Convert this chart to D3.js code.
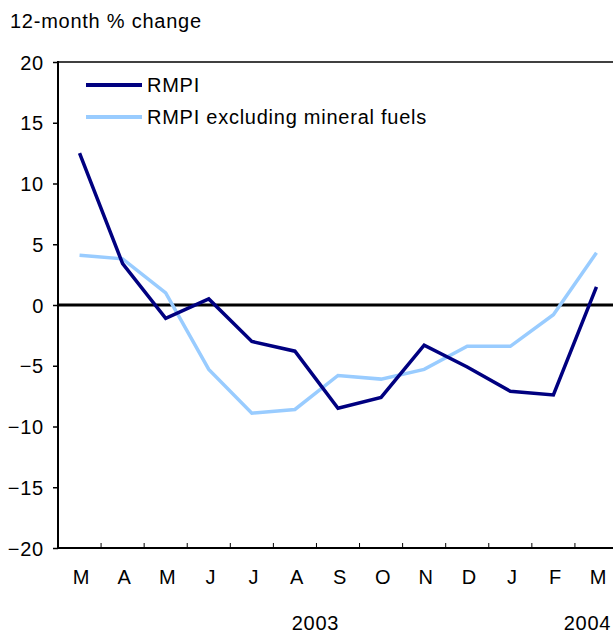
<!DOCTYPE html>
<html>
<head>
<meta charset="utf-8">
<script src="https://cdn.jsdelivr.net/npm/d3@7"></script>
<style>
  body { margin: 0; background: #fff; }
  svg { display: block; font-family: Arial, "Liberation Sans", sans-serif; }
  svg text { letter-spacing: 0.75px; }
</style>
</head>
<body>
<div id="chart"></div>
<script>
const months = ["M", "A", "M", "J", "J", "A", "S", "O", "N", "D", "J", "F", "M"];
const rmpi = [12.5, 3.4, -1.1, 0.5, -3.0, -3.8, -8.5, -7.6, -3.3, -5.1, -7.1, -7.4, 1.5];
const rmpiExFuels = [4.1, 3.8, 1.0, -5.3, -8.9, -8.6, -5.8, -6.1, -5.3, -3.4, -3.4, -0.8, 4.3];
const yTicks = [20, 15, 10, 5, 0, -5, -10, -15, -20];
const years = [{ label: "2003", at: 6, offset: -1 }, { label: "2004", at: 12, offset: -9 }];

const series = [
  { name: "RMPI", values: rmpi, color: "#000080" },
  { name: "RMPI excluding mineral fuels", values: rmpiExFuels, color: "#99ccff" },
];

const fontSize = 20;
const margin = { top: 62, right: 0, bottom: 86, left: 58 };
const totalWidth = 613;
const totalHeight = 634;
const width = 560;
const height = totalHeight - margin.top - margin.bottom;

const svg = d3
  .select("#chart")
  .append("svg")
  .attr("width", totalWidth)
  .attr("height", totalHeight);

svg
  .append("text")
  .attr("x", 10)
  .attr("y", 28)
  .attr("font-size", fontSize)
  .attr("fill", "#000")
  .text("12-month % change");

const g = svg
  .append("g")
  .attr("transform", `translate(${margin.left},${margin.top})`);

const idx = months.map((d, i) => i);

const xScale = d3.scaleBand().domain(idx).range([0, width]);
const yScale = d3.scaleLinear().domain([-20, 20]).range([height, 0]);

// frame top line
g.append("line")
  .attr("x1", 0)
  .attr("x2", width)
  .attr("y1", 0)
  .attr("y2", 0)
  .attr("stroke", "#000")
  .attr("stroke-width", 1.5);

// y axis
const yAxis = d3.axisLeft(yScale).tickValues(yTicks).tickSize(5).tickPadding(9);
const yG = g.append("g").call(yAxis);
yG.select(".domain").attr("stroke-width", 2).attr("d", `M0,${height + 1}V-1`);
yG.selectAll(".tick line").attr("stroke-width", 1.5);
yG.selectAll("text").attr("font-size", fontSize).attr("font-family", null).attr("dy", "0.36em");

// x axis
const xAxis = d3
  .axisBottom(xScale)
  .tickSize(0)
  .tickPadding(22)
  .tickFormat((i) => months[i]);
const xG = g.append("g").attr("transform", `translate(0,${height})`).call(xAxis);
xG.select(".domain").attr("stroke-width", 2).attr("d", `M-1,0H${width}`);
xG.selectAll("text").attr("font-size", fontSize).attr("font-family", null).attr("dx", 2);

// inner tick marks at month boundaries
g.append("g")
  .selectAll("line")
  .data(idx.slice(1))
  .enter()
  .append("line")
  .attr("x1", (i) => xScale(i))
  .attr("x2", (i) => xScale(i))
  .attr("y1", height)
  .attr("y2", height - 5)
  .attr("stroke", "#000")
  .attr("stroke-width", 1);

// year labels
g.append("g")
  .selectAll("text")
  .data(years)
  .enter()
  .append("text")
  .attr("x", (d) => xScale(d.at) + (d.at === 12 ? xScale.bandwidth() / 2 : 0) + d.offset)
  .attr("y", height + 82)
  .attr("text-anchor", "middle")
  .attr("font-size", fontSize)
  .text((d) => d.label);

// zero line
g.append("line")
  .attr("x1", 0)
  .attr("x2", width)
  .attr("y1", yScale(0))
  .attr("y2", yScale(0))
  .attr("stroke", "#000")
  .attr("stroke-width", 3);

const line = d3
  .line()
  .x((d, i) => xScale(i) + xScale.bandwidth() / 2)
  .y((d) => yScale(d));

g.selectAll(".series")
  .data(series.slice().reverse())
  .enter()
  .append("path")
  .attr("class", "series")
  .attr("d", (d) => line(d.values))
  .attr("fill", "none")
  .attr("stroke", (d) => d.color)
  .attr("stroke-width", 3.5)
  .attr("stroke-linejoin", "miter");

// legend
const legend = g
  .append("g")
  .selectAll("g")
  .data(series)
  .enter()
  .append("g")
  .attr("transform", (d, i) => `translate(28,${23 + i * 32})`);

legend
  .append("line")
  .attr("x1", 0)
  .attr("x2", 56)
  .attr("stroke", (d) => d.color)
  .attr("stroke-width", 4);

legend
  .append("text")
  .attr("x", 61)
  .attr("dy", "0.36em")
  .attr("font-size", fontSize)
  .text((d) => d.name);
</script>
</body>
</html>
